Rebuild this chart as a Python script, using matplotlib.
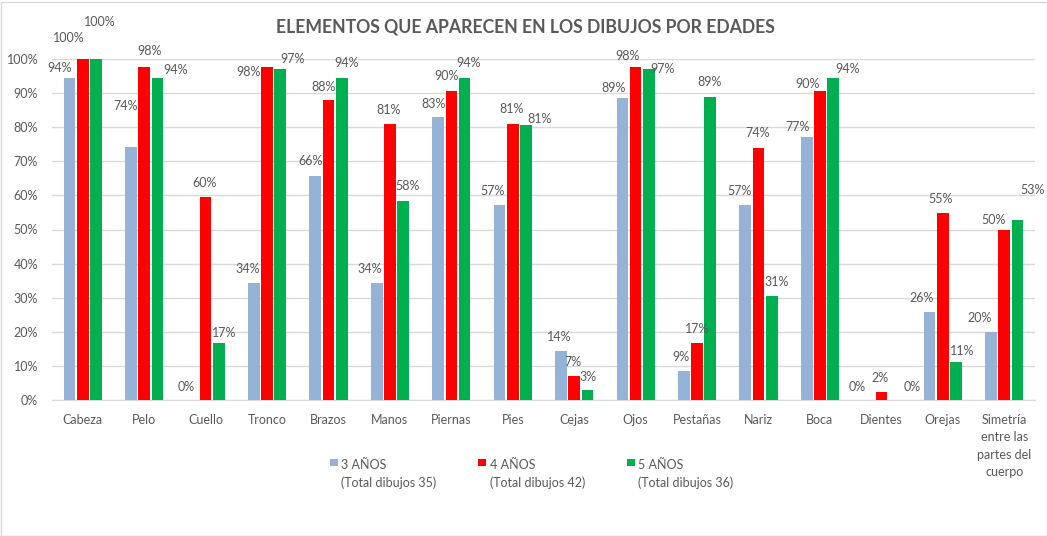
import matplotlib
matplotlib.use("Agg")
import matplotlib.pyplot as plt
import numpy as np
from matplotlib.patches import Rectangle
from matplotlib.container import BarContainer
from matplotlib.legend_handler import HandlerPatch, update_from_first_child

plt.rcParams['font.family'] = ['Lato', 'DejaVu Sans']

categories = ["Cabeza", "Pelo", "Cuello", "Tronco", "Brazos", "Manos", "Piernas", "Pies",
              "Cejas", "Ojos", "Pestañas", "Nariz", "Boca", "Dientes", "Orejas",
              "Simetría\nentre las\npartes del\ncuerpo"]
series_labels = ["3 AÑOS\n(Total dibujos 35)", "4 AÑOS\n(Total dibujos 42)", "5 AÑOS\n(Total dibujos 36)"]
anos3 = [94.3, 74.3, 0.0, 34.3, 65.7, 34.3, 82.9, 57.1, 14.3, 88.6, 8.6, 57.1, 77.1, 0.0, 25.7, 20.0]
anos4 = [100.0, 97.6, 59.5, 97.6, 88.1, 81.0, 90.5, 81.0, 7.1, 97.6, 16.7, 73.8, 90.5, 2.4, 54.8, 50.0]
anos5 = [100.0, 94.4, 16.7, 97.2, 94.4, 58.3, 94.4, 80.6, 2.8, 97.2, 88.9, 30.6, 94.4, 0.0, 11.1, 52.8]
title = "ELEMENTOS QUE APARECEN EN LOS DIBUJOS POR EDADES"
yticks = [0, 10, 20, 30, 40, 50, 60, 70, 80, 90, 100]

# label offsets (pixels) relative to bar top centre
dx3 = [-10, -5, -6, -6, -5, -7, -5, -7, -2, -9, -3, -6, -9, -11, -8, -11]
dy3 = [10, 41, 13, 14, 15, 14, 13, 14, 14, 10, 14, 14, 10, 13, 14, 14]
dx4 = [-14, 5, -1, -18, -5, -1, -5, -1, -1, -8, 0, -1, -12, -1, -2, -11]
dy4 = [21, 16, 14, -5, 13, 14, 15, 15, 14, 11, 14, 15, 7, 14, 14, 10]
dx5 = [4, 18, 5, 12, 5, 4, 4, 14, 1, 14, -1, 5, 14, 18, 6, 15]
dy5 = [37, 8, 10, 10, 15, 15, 15, 6, 13, 0, 15, 14, 9, 13, 11, 30]

colors = ["#95B3D7", "#FF0000", "#00B050"]
txt = "#595959"
grid = "#D9D9D9"

fig = plt.figure(figsize=(10.47, 5.36), dpi=100)
ax = fig.add_axes([52/1047, 1-400/536, (1035-52)/1047, (400-59)/536])

x = np.arange(len(categories))
width = 0.19
offs = [-0.215, 0.0, 0.215]
data = [anos3, anos4, anos5]
dxs = [dx3, dx4, dx5]
dys = [dy3, dy4, dy5]
handles = []
for k in range(3):
    bars = ax.bar(x + offs[k], data[k], width, color=colors[k], label=series_labels[k], zorder=2)
    handles.append(bars)
    for i, v in enumerate(data[k]):
        ax.annotate(f"{round(v):d}%", xy=(x[i] + offs[k], v), xytext=(dxs[k][i], dys[k][i]),
                    textcoords="offset pixels", ha="center", va="center",
                    fontsize=9, color=txt, annotation_clip=False)

ax.set_xlim(-0.5, len(categories) - 0.5)
ax.set_ylim(0, 100)
ax.set_yticks(yticks)
ax.set_yticklabels([f"{t}%" for t in yticks])
ax.set_xticks(x)
ax.set_xticklabels(categories, linespacing=1.55, va="top")
ax.tick_params(axis="both", length=0, labelsize=9, colors=txt)
ax.tick_params(axis="x", pad=10)
ax.tick_params(axis="y", pad=10)
ax.grid(axis="y", color=grid, linewidth=1, zorder=0)
ax.set_axisbelow(True)
for s in ["top", "right", "left"]:
    ax.spines[s].set_visible(False)
ax.spines["bottom"].set_color(grid)
ax.spines["bottom"].set_zorder(1)

fig.text(525/1047, 1-27/536, title, ha="center", va="center", fontsize=12.7,
         fontweight="bold", color=txt)


def top_square(legend, orig_handle, xdescent, ydescent, width, height, fontsize):
    s = 5.5
    return Rectangle((-xdescent, -ydescent + 9.5), s, s)


leg = fig.legend(handles=handles, labels=series_labels, ncol=3, loc="upper left",
                 bbox_to_anchor=(330/1047, 1-459/536), frameon=False, fontsize=9,
                 handlelength=0.65, handleheight=0.8, handletextpad=0.25, columnspacing=3.35,
                 labelcolor=txt, borderpad=0, borderaxespad=0,
                 handler_map={BarContainer: HandlerPatch(patch_func=top_square,
                                                         update_func=update_from_first_child)})
for t in leg.get_texts():
    t.set_linespacing(1.5)

fig.patches.append(Rectangle((0.5/1047, 0.5/536), 1 - 1/1047, 1 - 2/536, transform=fig.transFigure,
                             fill=False, edgecolor=grid, linewidth=1))

fig.savefig("out.png", dpi=100, facecolor="white")
